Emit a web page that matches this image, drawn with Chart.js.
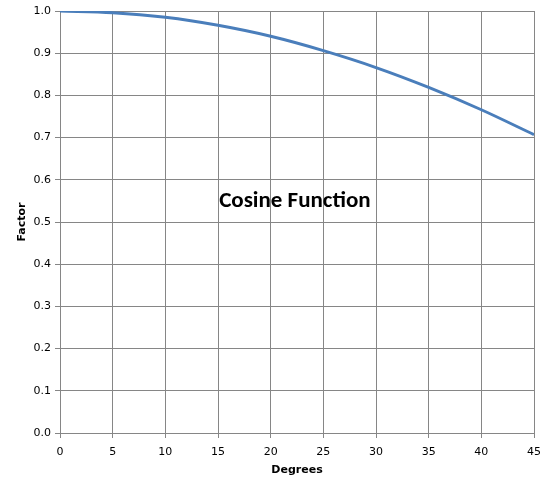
<!DOCTYPE html>
<html>
<head>
<meta charset="utf-8">
<script src="https://cdn.jsdelivr.net/npm/chart.js@4"></script>
<style>
  html, body { margin: 0; padding: 0; background: #fff; }
  #wrap { width: 545px; height: 489px; }
</style>
</head>
<body>
<div id="wrap"><canvas id="chart" width="545" height="489"></canvas></div>
<script>
// data
var degrees = [0, 5, 10, 15, 20, 25, 30, 35, 40, 45];
var factor = [1.0, 0.996, 0.985, 0.966, 0.94, 0.906, 0.866, 0.819, 0.766, 0.707];
var xTicks = [0, 5, 10, 15, 20, 25, 30, 35, 40, 45];
var chartLabel = "Cosine Function";

var points = [];
for (var i = 0; i < degrees.length; i++) {
  points.push({ x: degrees[i], y: factor[i] });
}

// draws the label in the middle of the plot
var labelPlugin = {
  id: "insideLabel",
  afterDatasetsDraw: function(chart) {
    var ctx = chart.ctx;
    var xs = chart.scales.x;
    var ys = chart.scales.y;
    ctx.save();
    ctx.font = "bold 23px Carlito, 'Open Sans', sans-serif";
    ctx.fillStyle = "#000";
    ctx.textAlign = "center";
    ctx.textBaseline = "middle";
    ctx.fillText(chartLabel, xs.getPixelForValue(22.3), ys.getPixelForValue(0.55));
    ctx.restore();
  }
};

var ctx = document.getElementById("chart").getContext("2d");
var myChart = new Chart(ctx, {
  type: "line",
  data: {
    datasets: [{
      data: points,
      borderColor: "#4a7ebb",
      borderWidth: 3,
      pointRadius: 0,
      cubicInterpolationMode: "monotone",
      fill: false
    }]
  },
  options: {
    responsive: false,
    animation: false,
    layout: { padding: { top: 11, right: 0, left: 12, bottom: 12 } },
    plugins: { legend: { display: false }, tooltip: { enabled: false } },
    scales: {
      x: {
        type: "linear",
        min: 0,
        max: 45,
        afterBuildTicks: function(axis) {
          axis.ticks = xTicks.map(function(v) { return { value: v }; });
        },
        grid: { color: "#868686", lineWidth: 1, tickLength: 5, drawTicks: true },
        border: { color: "#868686" },
        ticks: { color: "#000", font: { family: "'DejaVu Sans', sans-serif", size: 11 }, padding: 8, maxRotation: 0 },
        title: { display: true, text: "Degrees", color: "#000", font: { family: "'DejaVu Sans', sans-serif", size: 11, weight: "bold" }, padding: { top: 4, bottom: 0 } },
        afterFit: function(axis) {
          axis.height = 44;
          axis.paddingRight = 11;
        }
      },
      y: {
        min: 0,
        max: 1,
        grid: { color: "#868686", lineWidth: 1, tickLength: 5 },
        border: { color: "#868686" },
        ticks: {
          stepSize: 0.1,
          color: "#000",
          font: { family: "'DejaVu Sans', sans-serif", size: 11 },
          padding: 4,
          callback: function(v) { return v.toFixed(1); }
        },
        title: { display: true, text: "Factor", color: "#000", font: { family: "'DejaVu Sans', sans-serif", size: 11, weight: "bold" } },
        afterFit: function(axis) { axis.width = 48; }
      }
    }
  },
  plugins: [labelPlugin]
});
</script>
</body>
</html>
